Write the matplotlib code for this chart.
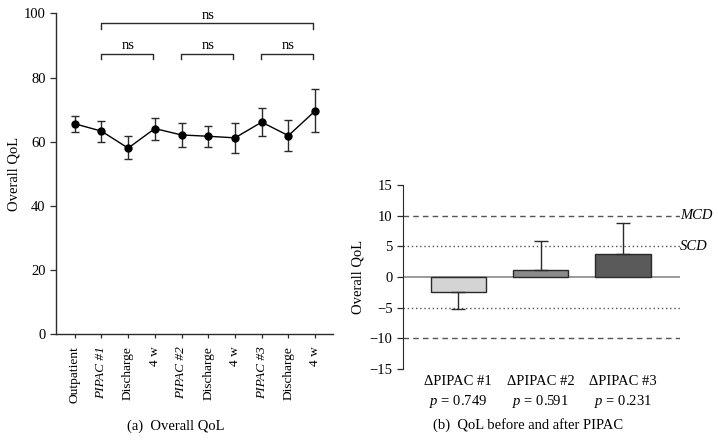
import numpy as np
import matplotlib
matplotlib.use('Agg')
import matplotlib.pyplot as plt

plt.rcParams['font.family'] = ['Liberation Serif', 'DejaVu Serif']
plt.rcParams['mathtext.fontset'] = 'custom'
plt.rcParams['mathtext.it'] = 'Liberation Serif:italic'
plt.rcParams['mathtext.rm'] = 'Liberation Serif'

# (a) Overall QoL over time
etapas = ['Outpatient', 'PIPAC #1', 'Discharge', '4 w', 'PIPAC #2', 'Discharge', '4 w',
          'PIPAC #3', 'Discharge', '4 w']
medias = [65.6, 63.3, 58.0, 64.1, 62.1, 61.7, 61.2, 66.1, 61.9, 69.6]
err_sup = [68.1, 66.6, 61.7, 67.5, 65.8, 65.0, 65.9, 70.4, 66.9, 76.3]
err_inf = [62.9, 59.8, 54.5, 60.6, 58.4, 58.4, 56.4, 61.7, 57.0, 62.9]
# brackets (inicio, fin, altura)
corchetes = [(1, 9, 96.9), (1, 3, 87.5), (4, 6, 87.5), (7, 9, 87.5)]

# (b) cambio de QoL
deltas = ['ΔPIPAC #1', 'ΔPIPAC #2', 'ΔPIPAC #3']
pvals = ['0.749', '0.591', '0.231']
cambio = [-2.5, 1.1, 3.8]
cambio_err = [2.75, 4.7, 4.95]
colores_barras = ['#d4d4d4', '#8a8a8a', '#5a5a5a']

W, H = 718, 448
fig = plt.figure(figsize=(W / 100, H / 100), dpi=100)
linea = '#2a2a2a'

# ---- panel (a)
ax1 = fig.add_axes([56 / W, 114 / H, 277 / W, 320.5 / H])
x = np.arange(len(etapas))
ax1.errorbar(x, medias, yerr=[np.array(medias) - np.array(err_inf), np.array(err_sup) - np.array(medias)],
             fmt='-o', color='black', ms=5, lw=1.0, elinewidth=1.0, capsize=3.2, capthick=1.0,
             ecolor=linea)
ax1.set_xlim(-0.7, 9.67)
ax1.set_ylim(0, 100)
ax1.set_yticks([0, 20, 40, 60, 80, 100])
ax1.set_xticks(x)
ax1.set_xticklabels(etapas, rotation=90, fontsize=9.6)
for lab in ax1.get_xticklabels():
    if lab.get_text().startswith('PIPAC'):
        lab.set_fontstyle('italic')
ax1.tick_params(axis='y', labelsize=10.5, length=4, width=0.9, color=linea)
ax1.tick_params(axis='x', length=3, width=0.9, color=linea, pad=6)
for s in ['top', 'right']:
    ax1.spines[s].set_visible(False)
for s in ['left', 'bottom']:
    ax1.spines[s].set_color(linea)
    ax1.spines[s].set_linewidth(1.0)
ax1.set_ylabel('Overall QoL', fontsize=10.5, labelpad=2)

for a, b, h in corchetes:
    ax1.plot([a - 0.03, a - 0.03, b - 0.07, b - 0.07], [h - 1.7, h, h, h - 1.7], color=linea, lw=1.0,
             clip_on=False)
    ax1.text((a + b) / 2, h + 0.5, 'ns', ha='center', va='bottom', fontsize=10.5)

fig.text(176 / W, 1 - 426 / H, '(a)  Overall QoL', ha='center', va='center', fontsize=10.5)

# ---- panel (b)
ax2 = fig.add_axes([403 / W, 79 / H, 277 / W, 184 / H])
xb = np.arange(len(deltas))
ax2.axhline(0, color='#8a8a8a', lw=1.2, zorder=1)
for y, ls in [(10, (0, (4, 3))), (-10, (0, (4, 3))), (5, (0, (1, 2))), (-5, (0, (1, 2)))]:
    ax2.axhline(y, color='#555555', lw=1.0, ls=ls, zorder=1)
abajo = [cambio_err[i] if cambio[i] < 0 else 0 for i in range(3)]
arriba = [cambio_err[i] if cambio[i] >= 0 else 0 for i in range(3)]
ax2.bar(xb, cambio, width=0.67, color=colores_barras, edgecolor=linea, lw=1.0, zorder=2)
ax2.errorbar(xb, cambio, yerr=[abajo, arriba], fmt='none', ecolor=linea, elinewidth=1.0,
             capsize=5, capthick=1.0, zorder=3)
ax2.set_xlim(-0.67, 2.69)
ax2.set_ylim(-15, 15)
ax2.set_yticks(np.arange(-15, 16, 5))
ax2.set_xticks(xb)
ax2.set_xticklabels([f'{d}\n$p$ = {p}' for d, p in zip(deltas, pvals)], fontsize=10.5,
                    linespacing=1.45)
ax2.tick_params(axis='x', length=0, pad=4)
ax2.tick_params(axis='y', labelsize=10.5, length=4, width=0.9, color=linea)
for s in ['top', 'right', 'bottom']:
    ax2.spines[s].set_visible(False)
ax2.spines['left'].set_color(linea)
ax2.set_ylabel('Overall QoL', fontsize=10.5, labelpad=4)
ax2.text(1.0, 10, 'MCD', transform=ax2.get_yaxis_transform(), ha='left', va='center',
         fontsize=10.5, fontstyle='italic')
ax2.text(1.0, 5, 'SCD', transform=ax2.get_yaxis_transform(), ha='left', va='center',
         fontsize=10.5, fontstyle='italic')

fig.text(528 / W, 1 - 425 / H, '(b)  QoL before and after PIPAC', ha='center', va='center',
         fontsize=10.5)

fig.savefig('out.png', dpi=100)
